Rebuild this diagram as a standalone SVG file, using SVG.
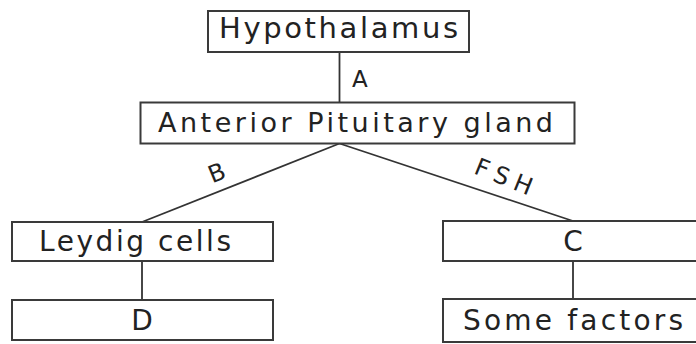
<svg xmlns="http://www.w3.org/2000/svg" width="696" height="344" viewBox="0 0 696 344">
<style>
.box{fill:#fff;stroke:#3a3a3a;stroke-width:2}
.ln{stroke:#333;stroke-width:1.8;fill:none}
.t{font-family:"DejaVu Sans","Liberation Sans",sans-serif;fill:#222}
</style>
<rect width="696" height="344" fill="#fff"/>
<g id="connectors">
<line class="ln" x1="339.5" y1="52" x2="339.5" y2="102.5"/>
<line class="ln" x1="339.5" y1="143.5" x2="142" y2="222"/>
<line class="ln" x1="339.5" y1="143.5" x2="573" y2="221"/>
<line class="ln" x1="142" y1="261" x2="142" y2="300"/>
<line class="ln" x1="573" y1="261" x2="573" y2="299"/>
<text class="t" x="352" y="87" font-size="23">A</text>
<text class="t" x="217" y="181" font-size="24" text-anchor="middle" transform="rotate(-22 217 173)">B</text>
<text class="t" x="504" y="185" font-size="24" text-anchor="middle" textLength="60" lengthAdjust="spacing" transform="rotate(22 504 176)">FSH</text>
</g>
<g id="hypothalamus">
<rect class="box" x="208" y="11" width="261" height="41"/>
<text class="t" x="219" y="38" font-size="29" textLength="239" lengthAdjust="spacing">Hypothalamus</text>
</g>
<g id="anterior-pituitary">
<rect class="box" x="140.5" y="102.5" width="434" height="41"/>
<text class="t" x="158" y="132" font-size="27" textLength="395" lengthAdjust="spacing">Anterior Pituitary gland</text>
</g>
<g id="leydig">
<rect class="box" x="12" y="222" width="261" height="39"/>
<text class="t" x="39" y="251" font-size="28" textLength="192" lengthAdjust="spacing">Leydig cells</text>
</g>
<g id="d">
<rect class="box" x="12" y="300" width="261" height="40"/>
<text class="t" x="142" y="330" font-size="28" text-anchor="middle">D</text>
</g>
<g id="c">
<rect class="box" x="443" y="221" width="270" height="40"/>
<text class="t" x="573" y="251" font-size="28" text-anchor="middle">C</text>
</g>
<g id="some-factors">
<rect class="box" x="443" y="299" width="270" height="43"/>
<text class="t" x="463" y="330" font-size="28" textLength="220" lengthAdjust="spacing">Some factors</text>
</g>
</svg>
